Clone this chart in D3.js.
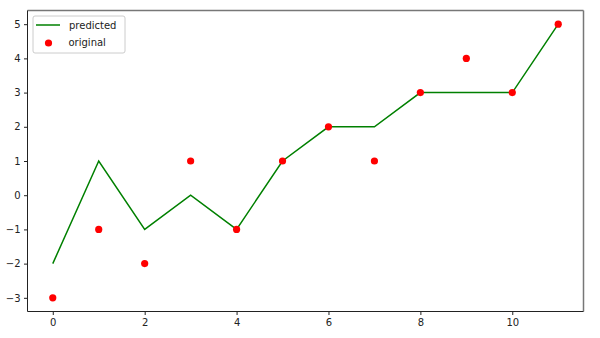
<!DOCTYPE html>
<html>
<head>
<meta charset="utf-8">
<script src="https://cdn.jsdelivr.net/npm/d3@7"></script>
<style>
  body { margin: 0; background: #fff; }
  text { font-family: "DejaVu Sans", sans-serif; }
</style>
</head>
<body>
<svg width="600" height="338"></svg>
<script>
// values
const xs = [0, 1, 2, 3, 4, 5, 6, 7, 8, 9, 10, 11];
const predicted = [-2, 1, -1, 0, -1, 1, 2, 2, 3, 3, 3, 5];
const original = [-3, -1, -2, 1, -1, 1, 2, 1, 3, 4, 3, 5];
const xTicks = [0, 2, 4, 6, 8, 10];
const yTicks = [-3, -2, -1, 0, 1, 2, 3, 4, 5];

const svg = d3.select('svg');
const padL = 27.5, padR = 583.5, padT = 10.5, padB = 311.5;

const x = d3.scaleLinear().domain([-0.55, 11.55]).range([padL, padR]);
const y = d3.scaleLinear().domain([-3.4, 5.4]).range([padB, padT]);

// axes
const xAxis = svg.append('g')
    .attr('transform', `translate(0,${padB})`)
    .call(d3.axisBottom(x).tickValues(xTicks).tickSize(3.5).tickPadding(3.5).tickFormat(d3.format('d')));
const yAxis = svg.append('g')
    .attr('transform', `translate(${padL},0)`)
    .call(d3.axisLeft(y).tickValues(yTicks).tickSize(3.5).tickPadding(3.5)
        .tickFormat(d => d < 0 ? '\u2212' + Math.abs(d) : d));
[xAxis, yAxis].forEach(a => {
    a.select('.domain').remove();
    a.selectAll('text').attr('font-size', 10).attr('fill', '#222').attr('font-family', '"DejaVu Sans", sans-serif');
    a.selectAll('line').attr('stroke', '#222');
});

// line
const line = d3.line().x((d, i) => x(xs[i])).y(d => y(d));
svg.append('path')
    .datum(predicted)
    .attr('fill', 'none')
    .attr('stroke', 'green')
    .attr('stroke-width', 1.5)
    .attr('d', line);

// points
svg.selectAll('.pt').data(original).enter().append('circle')
    .attr('cx', (d, i) => x(xs[i]))
    .attr('cy', d => y(d))
    .attr('r', 3.6)
    .attr('fill', 'red');

// spines
svg.append('line').attr('x1', padL).attr('x2', padR).attr('y1', padT).attr('y2', padT)
    .attr('stroke', '#777').attr('stroke-width', 1.5);
svg.append('line').attr('x1', padR).attr('x2', padR).attr('y1', padT).attr('y2', padB)
    .attr('stroke', '#777').attr('stroke-width', 1.5);
svg.append('line').attr('x1', padL).attr('x2', padR).attr('y1', padB).attr('y2', padB)
    .attr('stroke', '#222');
svg.append('line').attr('x1', padL).attr('x2', padL).attr('y1', padT).attr('y2', padB)
    .attr('stroke', '#222');

// legend
const lg = svg.append('g').attr('transform', 'translate(33,16)');
lg.append('rect').attr('x', 0).attr('y', 0).attr('width', 92).attr('height', 37)
    .attr('rx', 2).attr('fill', '#fff').attr('fill-opacity', 0.8)
    .attr('stroke', '#ccc').attr('stroke-width', 1);
lg.append('line').attr('x1', 3).attr('x2', 27).attr('y1', 9).attr('y2', 9)
    .attr('stroke', 'green').attr('stroke-width', 1.5);
lg.append('text').attr('x', 36).attr('y', 12.5).attr('font-size', 10).attr('fill', '#222').text('predicted');
lg.append('circle').attr('cx', 15.5).attr('cy', 27).attr('r', 3.6).attr('fill', 'red');
lg.append('text').attr('x', 35.5).attr('y', 30).attr('font-size', 10).attr('fill', '#222').text('original');
</script>
</body>
</html>
